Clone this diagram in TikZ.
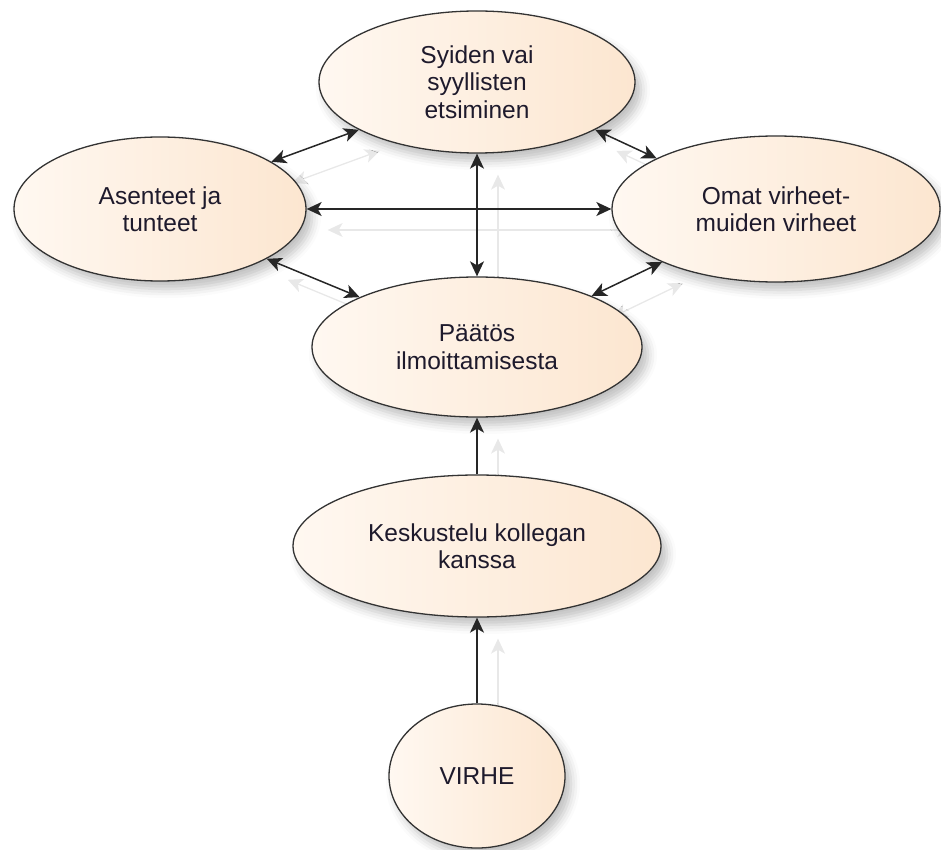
\documentclass[tikz,border=0pt]{standalone}
\usepackage{fontspec}
\setmainfont{Liberation Sans}
\usetikzlibrary{shapes.geometric,arrows.meta,shadows.blur}
\pgfdeclarelayer{bg}
\pgfsetlayers{bg,main}
\definecolor{bubblelight}{HTML}{FFF8F1}
\definecolor{bubbledark}{HTML}{FCE6D0}
\definecolor{rimline}{HTML}{333333}
\definecolor{labelink}{HTML}{1E1A2C}
\definecolor{ghostgray}{HTML}{E8E8E8}
\begin{document}
\begin{tikzpicture}[x=1pt,y=-1pt,
  bubble/.style={ellipse, draw=rimline, line width=1.3pt,
    left color=bubblelight, right color=bubbledark,
    inner sep=0pt, align=center, text=labelink,
    font=\fontsize{24.5}{27.5}\selectfont,
    blur shadow={shadow xshift=6pt, shadow yshift=-8pt,
      shadow blur radius=9pt, shadow opacity=25}},
  tip/.tip={Stealth[length=15pt,width=14pt,inset=4pt]},
  both/.style={line width=1.5pt, draw=black!85, tip-tip},
  oneway/.style={line width=1.5pt, draw=black!85, -tip},
  ghost/.style={line width=1.3pt, draw=ghostgray,
    transform canvas={shift={(21pt,-21pt)}}},
]
\useasboundingbox (0,0) rectangle (941,850);

% the six topics
\node[bubble, minimum width=316pt, minimum height=142pt] (cause) at (477,82)
  {Syiden vai\\syyllisten\\etsiminen};
\node[bubble, minimum width=292pt, minimum height=144pt] (attitude) at (160,209)
  {Asenteet ja\\tunteet};
\node[bubble, minimum width=328pt, minimum height=146pt] (errors) at (776,209)
  {Omat virheet-\\muiden virheet};
\node[bubble, minimum width=330pt, minimum height=140pt] (decision) at (477,347)
  {Päätös\\ilmoittamisesta};
\node[bubble, minimum width=368pt, minimum height=142pt] (talk) at (477,546)
  {Keskustelu kollegan\\kanssa};
\node[bubble, minimum width=176pt, minimum height=144pt] (mistake) at (477,776)
  {VIRHE};

% faint echo of every connector, behind the ellipses
\begin{pgfonlayer}{bg}
  \draw[ghost, tip-tip] (cause.202) -- (attitude.23);
  \draw[ghost, tip-tip] (cause.338) -- (errors.157);
  \draw[ghost, tip-tip] (attitude.0) -- (errors.180);
  \draw[ghost, tip-tip] (cause.south) -- (decision.north);
  \draw[ghost, tip-tip] (attitude.335) -- (decision.157);
  \draw[ghost, tip-tip] (errors.205) -- (decision.24);
  \draw[ghost, -tip] (talk.north) -- (decision.south);
  \draw[ghost, -tip] (mistake.north) -- (talk.south);
\end{pgfonlayer}

% connectors
\draw[both] (cause.202) -- (attitude.23);
\draw[both] (cause.338) -- (errors.157);
\draw[both] (attitude.0) -- (errors.180);
\draw[both] (cause.south) -- (decision.north);
\draw[both] (attitude.335) -- (decision.157);
\draw[both] (errors.205) -- (decision.24);
\draw[oneway] (talk.north) -- (decision.south);
\draw[oneway] (mistake.north) -- (talk.south);
\end{tikzpicture}
\end{document}
